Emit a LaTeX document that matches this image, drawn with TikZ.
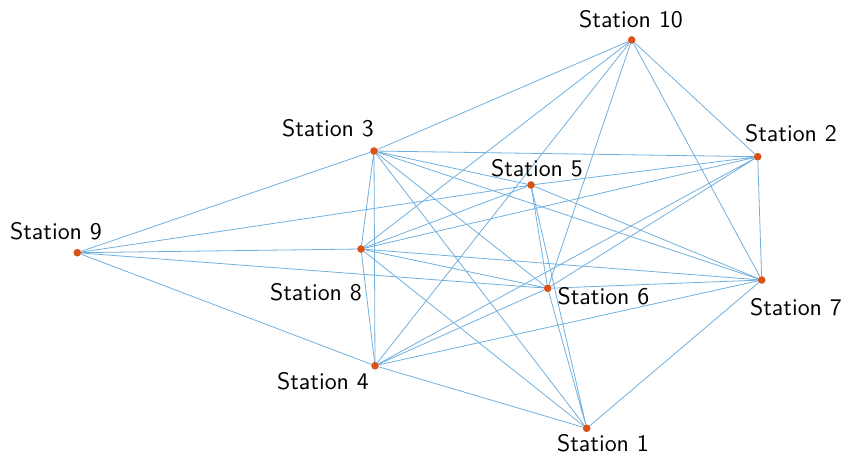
\documentclass[tikz,border=0pt]{standalone}
\usepackage{tikz}

\definecolor{edgeblue}{RGB}{112,176,222}
\definecolor{dotorange}{RGB}{217,83,25}

\begin{document}
\begin{tikzpicture}[x=0.75pt, y=-0.75pt,
    every node/.style={font=\sffamily},
    label text/.style={scale=1.79},
    station/.style={circle, fill=dotorange, inner sep=0pt, minimum size=5.5pt},
    edge/.style={edgeblue, line width=0.6pt}]
    \useasboundingbox (0,0) rectangle (842,457);

    % stations
    \node[station] (s1) at (586.7,428.3) {};
    \node[station] (s2) at (757.7,156.7) {};
    \node[station] (s3) at (374,151) {};
    \node[station] (s4) at (375,365.7) {};
    \node[station] (s5) at (531,185) {};
    \node[station] (s6) at (547.7,288.3) {};
    \node[station] (s7) at (761.7,280) {};
    \node[station] (s8) at (361,249) {};
    \node[station] (s9) at (77.3,252.7) {};
    \node[station] (s10) at (631.7,40) {};

    % links
    \draw[edge] (s1) -- (s3) (s1) -- (s4) (s1) -- (s5) (s1) -- (s6) (s1) -- (s7) (s1) -- (s8);
    \draw[edge] (s2) -- (s3) (s2) -- (s4) (s2) -- (s5) (s2) -- (s6) (s2) -- (s7) (s2) -- (s8) (s2) -- (s10);
    \draw[edge] (s3) -- (s4) (s3) -- (s5) (s3) -- (s6) (s3) -- (s7) (s3) -- (s8) (s3) -- (s9) (s3) -- (s10);
    \draw[edge] (s4) -- (s6) (s4) -- (s7) (s4) -- (s8) (s4) -- (s9) (s4) -- (s10);
    \draw[edge] (s5) -- (s6) (s5) -- (s7) (s5) -- (s8) (s5) -- (s9);
    \draw[edge] (s6) -- (s7) (s6) -- (s8) (s6) -- (s9) (s6) -- (s10);
    \draw[edge] (s7) -- (s8) (s7) -- (s10);
    \draw[edge] (s8) -- (s9) (s8) -- (s10);

    % redraw dots over the links
    \foreach \s in {s1,s2,s3,s4,s5,s6,s7,s8,s9,s10}
        \fill[dotorange] (\s) circle (2.75pt);

    % labels
    \node[label text] (l1) at (603,443.5) {Station 1};
    \node[label text] (l2) at (791,133) {Station 2};
    \node[label text] (l3) at (328,128.5) {Station 3};
    \node[label text] (l4) at (323,381) {Station 4};
    \node[label text] (l5) at (537,168) {Station 5};
    \node[label text] (l6) at (603.5,296.5) {Station 6};
    \node[label text] (l7) at (796,307.5) {Station 7};
    \node[label text] (l8) at (316,292) {Station 8};
    \node[label text] (l9) at (56,231) {Station 9};
    \node[label text] (l10) at (631,19.5) {Station 10};
\end{tikzpicture}
\end{document}
